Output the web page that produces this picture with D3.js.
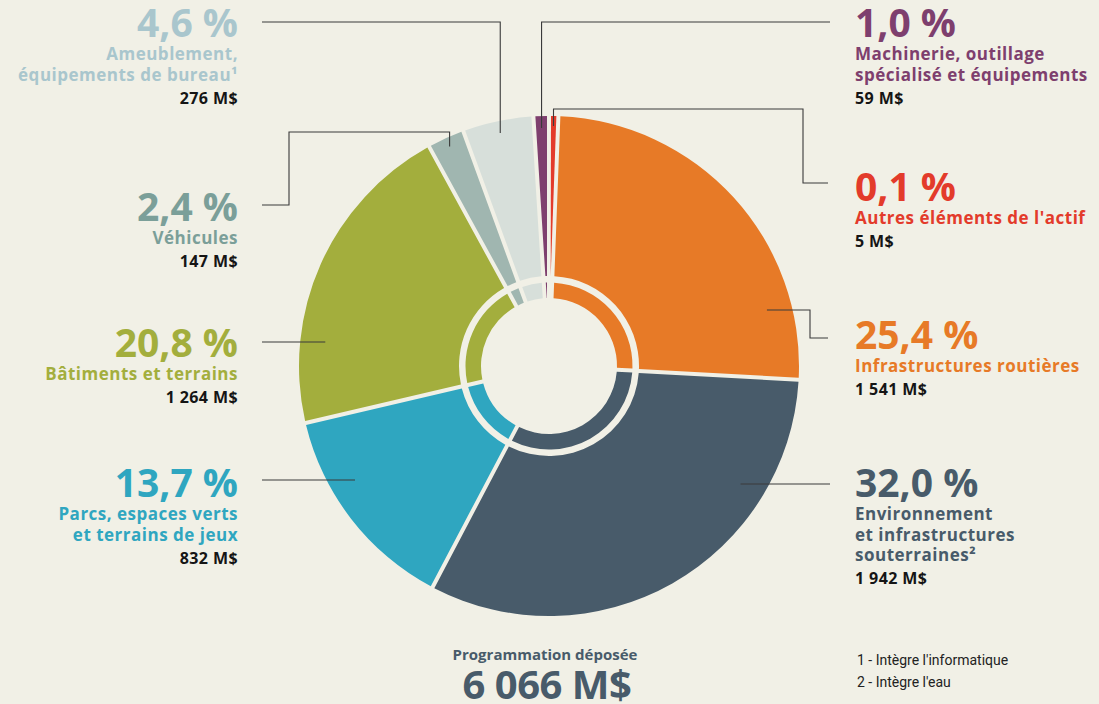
<!DOCTYPE html>
<html>
<head>
<meta charset="utf-8">
<script src="https://cdn.jsdelivr.net/npm/d3@7"></script>
<style>
  body { margin: 0; background: #f1f0e6; }
  svg { display: block; font-family: "Open Sans", "Noto Sans", sans-serif; font-weight: 700; }
</style>
</head>
<body>
<div id="chart"></div>
<script>
// clockwise from the top of the ring
const categories = [
  ["Autres éléments de l'actif"],
  ["Infrastructures routières"],
  ["Environnement", "et infrastructures", "souterraines²"],
  ["Parcs, espaces verts", "et terrains de jeux"],
  ["Bâtiments et terrains"],
  ["Véhicules"],
  ["Ameublement,", "équipements de bureau¹"],
  ["Machinerie, outillage", "spécialisé et équipements"]
];
const percents = [0.1, 25.4, 32.0, 13.7, 20.8, 2.4, 4.6, 1.0];
const amounts = ["5 M$", "1 541 M$", "1 942 M$", "832 M$", "1 264 M$", "147 M$", "276 M$", "59 M$"];
const sliceColors = ["#e33b2b", "#e77a27", "#485b6a", "#2fa6c0", "#a3ae3d", "#a0b6b0", "#d7dfda", "#7e3f6e"];
const textColors  = ["#e33b2b", "#e77a27", "#485b6a", "#2fa6c0", "#a3ae3d", "#7b9f99", "#a9c6cd", "#7e3f6e"];
const totalLabel = "Programmation déposée";
const totalValue = "6 066 M$";
const footnotes = ["1 - Intègre l'informatique", "2 - Intègre l'eau"];

const width = 1099, height = 704;
const cx = 549, cy = 366;
const rOuter = 250, rOuterIn = 90, rRingOut = 83.5, rHole = 68;

// where each label sits and how its leader line runs
// kind "radial": starts inside the slice at its mid angle; kind "flat": horizontal at y
const layout = [
  {side: "right", ty: 201, kind: "radial", r: 240, path: [["a", 109], [803, 109], [803, 183], [828, 183]]},
  {side: "right", ty: 349, kind: "flat", y: 310, path: [[810, 310], [810, 338], [828, 338]]},
  {side: "right", ty: 497, kind: "flat", y: 484, path: [[830, 484]]},
  {side: "left",  ty: 497, kind: "flat", y: 480, path: [[262, 480]]},
  {side: "left",  ty: 357, kind: "flat", y: 342, path: [[262, 342]]},
  {side: "left",  ty: 221, kind: "radial", r: 241, path: [["a", 132], [289, 132], [289, 205], [262, 205]]},
  {side: "left",  ty: 37,  kind: "radial", r: 238, path: [["a", 22], [262, 22]]},
  {side: "right", ty: 37,  kind: "radial", r: 238, path: [["a", 22], [830, 22]]}
];

const data = percents.map((p, i) => ({i, pct: p}));

const svg = d3.select("#chart").append("svg")
  .attr("width", width)
  .attr("height", height);

svg.append("rect").attr("width", width).attr("height", height).attr("fill", "#f1f0e6");

// the 0,1 % slice is widened a little so it stays visible, as in the source
const pie = d3.pie().sort(null).value(d => Math.max(d.pct, 0.6));
const arcs = pie(data);

const outerArc = d3.arc().innerRadius(rOuterIn).outerRadius(rOuter)
  .padAngle(0.016).padRadius(250);
const ringArc = d3.arc().innerRadius(rHole).outerRadius(rRingOut)
  .padAngle(0.016).padRadius(250);

const g = svg.append("g").attr("transform", `translate(${cx},${cy})`);

g.selectAll("path.outer")
  .data(arcs)
  .enter()
  .append("path")
  .attr("class", "outer")
  .attr("d", outerArc)
  .attr("fill", d => sliceColors[d.data.i]);

g.selectAll("path.ring")
  .data(arcs)
  .enter()
  .append("path")
  .attr("class", "ring")
  .attr("d", ringArc)
  .attr("fill", d => sliceColors[d.data.i]);

// leader lines
function leaderPoints(d) {
  const L = layout[d.data.i];
  let start;
  if (L.kind === "radial") {
    const a = (d.startAngle + d.endAngle) / 2;
    start = [cx + L.r * Math.sin(a), cy - L.r * Math.cos(a)];
  } else {
    const r = 225, dy = L.y - cy;
    const dx = Math.sqrt(r * r - dy * dy);
    start = [L.side === "right" ? cx + dx : cx - dx, L.y];
  }
  const pts = [start];
  L.path.forEach(p => pts.push([p[0] === "a" ? start[0] : p[0], p[1]]));
  return pts;
}

svg.selectAll("path.leader")
  .data(arcs)
  .enter()
  .append("path")
  .attr("class", "leader")
  .attr("d", d => d3.line()(leaderPoints(d)))
  .attr("fill", "none")
  .attr("stroke", "#3a3a3a")
  .attr("stroke-width", 1.1);

// labels
const labels = svg.selectAll("g.label")
  .data(arcs)
  .enter()
  .append("g")
  .attr("class", "label")
  .attr("text-anchor", d => layout[d.data.i].side === "left" ? "end" : "start")
  .attr("transform", d => `translate(${layout[d.data.i].side === "left" ? 238 : 855},${layout[d.data.i].ty})`);

labels.append("text")
  .attr("font-size", 39)
  .attr("fill", d => textColors[d.data.i])
  .text(d => d.data.pct.toFixed(1).replace(".", ",") + " %");

labels.each(function(d) {
  const el = d3.select(this);
  const lines = categories[d.data.i];
  lines.forEach((t, k) => {
    el.append("text")
      .attr("y", 23 + k * 20.5)
      .attr("font-size", 17)
      .attr("letter-spacing", 0.5)
      .attr("fill", textColors[d.data.i])
      .text(t);
  });
  el.append("text")
    .attr("y", 23 + (lines.length - 1) * 20.5 + 23)
    .attr("font-size", 16)
    .attr("letter-spacing", 0.4)
    .attr("fill", "#151515")
    .text(amounts[d.data.i]);
});

// total
svg.append("text")
  .attr("x", 545).attr("y", 660)
  .attr("text-anchor", "middle")
  .attr("font-size", 15)
  .attr("fill", "#485b6a")
  .text(totalLabel);

svg.append("text")
  .attr("x", 547).attr("y", 699)
  .attr("text-anchor", "middle")
  .attr("font-size", 40)
  .attr("letter-spacing", -0.5)
  .attr("fill", "#485b6a")
  .text(totalValue);

svg.selectAll("text.note")
  .data(footnotes)
  .enter()
  .append("text")
  .attr("class", "note")
  .attr("x", 857)
  .attr("y", (d, i) => 665 + i * 22)
  .attr("font-family", "'Liberation Sans Narrow', 'Roboto', sans-serif")
  .attr("font-weight", 400)
  .attr("font-size", 14)
  .attr("fill", "#222")
  .text(d => d);
</script>
</body>
</html>
